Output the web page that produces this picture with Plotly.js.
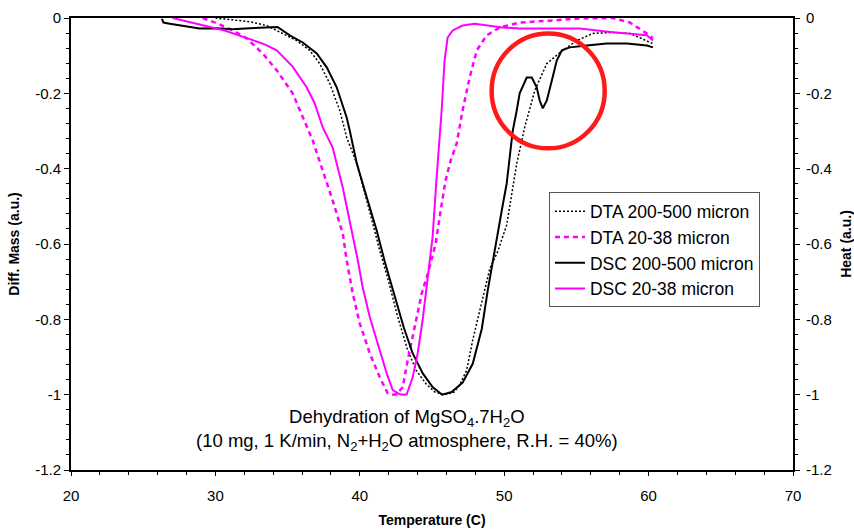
<!DOCTYPE html>
<html>
<head>
<meta charset="utf-8">
<script src="https://cdn.plot.ly/plotly-3.0.1.min.js"></script>
<style>
html,body{margin:0;padding:0;background:#fff;}
#chart{width:854px;height:529px;}
</style>
</head>
<body>
<div id="chart"></div>
<script>
// ---- Data ----
const dtaCoarseT = [30.0, 31.2, 32.4, 33.55, 34.66, 35.63, 36.53, 37.22, 37.92, 38.61, 39.09, 39.79, 40.48, 41.38, 42.0, 42.6, 43.3, 43.9, 44.6, 45.2, 45.9, 46.5, 46.91, 47.4, 47.82, 48.51, 49.0, 49.55, 50.17, 50.87, 51.42, 52.12, 52.95, 53.85, 55.03, 56.13, 57.52, 58.70, 60.09, 60.30];
const dtaCoarseV = [0.0, -0.004, -0.010, -0.020, -0.041, -0.060, -0.086, -0.121, -0.174, -0.245, -0.317, -0.386, -0.484, -0.617, -0.700, -0.790, -0.880, -0.935, -0.972, -0.993, -1.0, -0.994, -0.975, -0.935, -0.855, -0.749, -0.666, -0.620, -0.550, -0.386, -0.290, -0.192, -0.121, -0.092, -0.060, -0.041, -0.038, -0.041, -0.065, -0.068];

const dtaFineT = [29.12, 30.16, 31.20, 32.17, 33.27, 34.25, 35.35, 36.05, 36.74, 37.43, 38.12, 38.82, 39.09, 39.51, 39.99, 40.69, 41.38, 41.93, 42.21, 42.56, 42.97, 43.32, 43.80, 44.29, 44.70, 45.25, 45.60, 45.94, 46.30, 46.71, 47.12, 47.61, 48.10, 48.79, 49.69, 51.07, 53.16, 55.23, 57.52, 58.70, 59.88, 60.30];
const dtaFineV = [0.0, -0.015, -0.033, -0.054, -0.094, -0.139, -0.200, -0.264, -0.325, -0.405, -0.484, -0.572, -0.643, -0.731, -0.810, -0.890, -0.954, -0.996, -1.0, -0.999, -0.980, -0.908, -0.821, -0.731, -0.680, -0.600, -0.511, -0.431, -0.378, -0.333, -0.245, -0.158, -0.086, -0.046, -0.025, -0.012, -0.007, -0.001, 0.0, -0.012, -0.041, -0.054];

const dscCoarseT = [26.30, 26.40, 26.84, 27.74, 28.91, 30.09, 31.20, 32.38, 33.55, 34.30, 35.15, 36.05, 37.02, 37.71, 38.40, 39.09, 39.30, 39.79, 40.48, 41.17, 41.73, 42.35, 43.04, 43.66, 44.35, 45.04, 45.70, 46.36, 47.12, 47.82, 48.45, 48.86, 49.13, 49.48, 49.83, 50.17, 50.59, 50.87, 51.07, 51.56, 51.91, 52.25, 52.46, 52.67, 52.95, 53.30, 53.64, 53.99, 54.54, 55.72, 57.10, 58.49, 59.88, 60.30];
const dscCoarseV = [-0.002, -0.012, -0.015, -0.020, -0.028, -0.027, -0.030, -0.027, -0.025, -0.024, -0.046, -0.065, -0.094, -0.131, -0.184, -0.264, -0.298, -0.386, -0.476, -0.564, -0.647, -0.731, -0.821, -0.890, -0.943, -0.980, -1.0, -0.993, -0.968, -0.918, -0.825, -0.723, -0.662, -0.590, -0.511, -0.440, -0.300, -0.245, -0.200, -0.158, -0.158, -0.184, -0.219, -0.240, -0.219, -0.166, -0.113, -0.086, -0.078, -0.073, -0.068, -0.068, -0.073, -0.078];

const dscFineT = [27.04, 28.91, 30.64, 32.24, 33.41, 34.25, 35.35, 36.32, 36.88, 37.43, 38.12, 38.82, 39.51, 39.86, 40.20, 40.69, 41.38, 41.86, 42.28, 42.77, 43.04, 43.25, 43.66, 44.01, 44.35, 44.70, 44.84, 45.04, 45.32, 45.67, 45.87, 46.08, 46.43, 47.12, 47.95, 48.79, 49.89, 51.07, 53.37, 55.23, 57.52, 59.88, 60.30];
const dscFineV = [0.0, -0.017, -0.033, -0.054, -0.070, -0.086, -0.129, -0.184, -0.227, -0.290, -0.344, -0.450, -0.572, -0.643, -0.715, -0.794, -0.882, -0.943, -0.988, -0.999, -1.0, -0.999, -0.954, -0.890, -0.802, -0.696, -0.651, -0.582, -0.423, -0.245, -0.113, -0.052, -0.033, -0.020, -0.015, -0.020, -0.025, -0.028, -0.028, -0.028, -0.038, -0.046, -0.060];

const seriesNames = ["DTA 200-500 micron", "DTA 20-38 micron", "DSC 200-500 micron", "DSC 20-38 micron"];
const xTickVals = [20, 30, 40, 50, 60, 70];
const yTickVals = [0, -0.2, -0.4, -0.6, -0.8, -1, -1.2];
const yTickText = ["0", "-0.2", "-0.4", "-0.6", "-0.8", "-1", "-1.2"];

const FONT = "Arial, 'Liberation Sans', sans-serif";

const traces = [
  {x: dtaCoarseT, y: dtaCoarseV, name: seriesNames[0], mode: "lines", yaxis: "y",
   line: {color: "#000000", width: 1.5, dash: "2px,2px"}},
  {x: dtaFineT, y: dtaFineV, name: seriesNames[1], mode: "lines", yaxis: "y",
   line: {color: "#ff00ff", width: 2.5, dash: "5px,4px"}},
  {x: dscCoarseT, y: dscCoarseV, name: seriesNames[2], mode: "lines", yaxis: "y2",
   line: {color: "#000000", width: 2}},
  {x: dscFineT, y: dscFineV, name: seriesNames[3], mode: "lines", yaxis: "y2",
   line: {color: "#ff00ff", width: 2}}
];

const yCommon = {
  range: [-1.2, 0], autorange: false,
  tickmode: "array", tickvals: yTickVals, ticktext: yTickText,
  ticks: "outside", ticklen: 5, tickwidth: 1, tickcolor: "#000",
  minor: {dtick: 0.04, ticks: "outside", ticklen: 3, tickwidth: 1, tickcolor: "#000"},
  showgrid: false, zeroline: false, showline: true, linecolor: "#000", linewidth: 2,
  tickfont: {family: FONT, size: 15, color: "#000"}
};

const layout = {
  width: 854, height: 529,
  margin: {l: 71, r: 61, t: 17.5, b: 59, pad: 0},
  paper_bgcolor: "#fff", plot_bgcolor: "#fff",
  showlegend: true,
  legend: {x: 0.662, y: 0.614, xanchor: "left", yanchor: "top",
    bgcolor: "#fff", bordercolor: "#555", borderwidth: 1,
    font: {family: FONT, size: 17.5, color: "#000"}, itemwidth: 30, tracegroupgap: 0},
  xaxis: {
    range: [20, 70], autorange: false,
    tickmode: "array", tickvals: xTickVals,
    ticks: "outside", ticklen: 4, tickwidth: 1, tickcolor: "#000",
    minor: {dtick: 2, ticks: "outside", ticklen: 3, tickwidth: 1, tickcolor: "#000"},
    showgrid: false, zeroline: false, showline: true, mirror: true,
    linecolor: "#000", linewidth: 2, ticklabelstandoff: 7,
    tickfont: {family: FONT, size: 15, color: "#000"},
    title: {text: "<b>Temperature (C)</b>", font: {family: FONT, size: 14, color: "#000"}, standoff: 12}
  },
  yaxis: Object.assign({}, yCommon, {
    title: {text: "<b>Diff. Mass (a.u.)</b>", font: {family: FONT, size: 14, color: "#000"}, standoff: 12}
  }),
  yaxis2: Object.assign({}, yCommon, {
    overlaying: "y", side: "right", ticklabelstandoff: 3,
    title: {text: "<b>Heat (a.u.)</b>", font: {family: FONT, size: 14, color: "#000"}, standoff: 12}
  }),
  shapes: [{type: "circle", xref: "x", yref: "y", x0: 49.13, x1: 56.96, y0: -0.041, y1: -0.346,
    line: {color: "#ff1a1a", width: 4.5}}],
  annotations: [{xref: "x", yref: "y", x: 43.3, y: -1.094, showarrow: false, align: "center",
    text: "Dehydration of MgSO<sub>4</sub>.7H<sub>2</sub>O<br>(10 mg, 1 K/min, N<sub>2</sub>+H<sub>2</sub>O atmosphere, R.H. = 40%)",
    font: {family: FONT, size: 18.5, color: "#000"}}]
};

Plotly.newPlot("chart", traces, layout, {displayModeBar: false, staticPlot: true});
</script>
</body>
</html>
